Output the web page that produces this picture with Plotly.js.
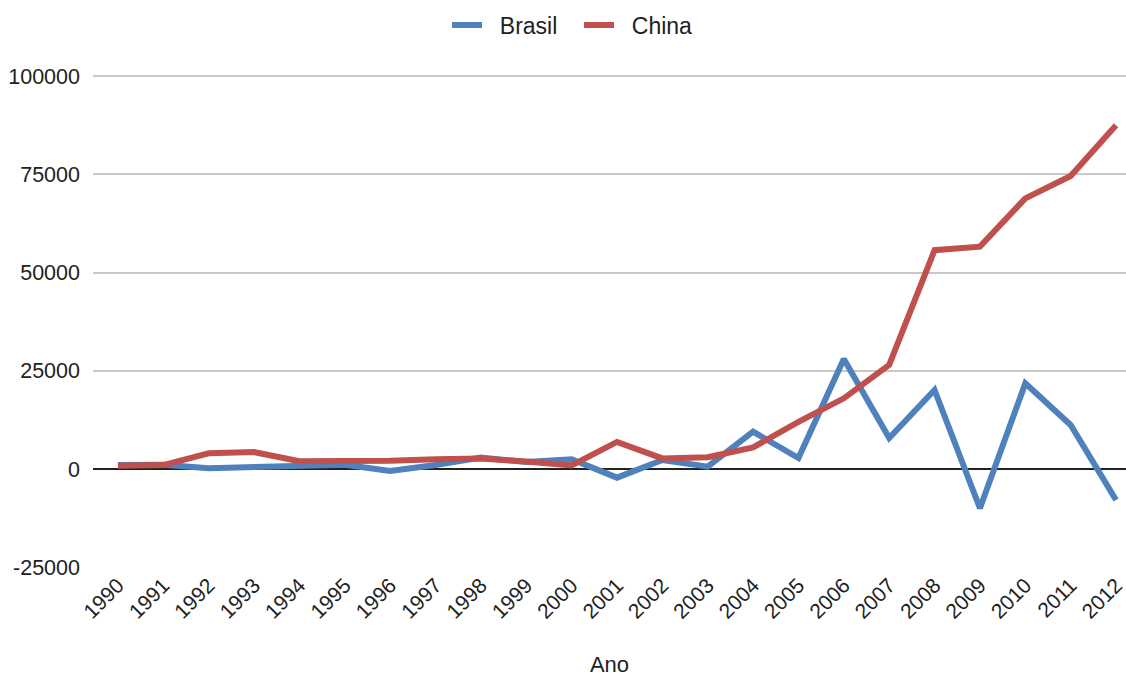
<!DOCTYPE html>
<html>
<head>
<meta charset="utf-8">
<script src="https://cdn.plot.ly/plotly-3.0.1.min.js"></script>
<style>html,body{margin:0;padding:0;background:#fff;}#chart{width:1126px;height:677px;}</style>
</head>
<body>
<div id="chart"></div>
<script>
const anos = ["1990","1991","1992","1993","1994","1995","1996","1997","1998","1999","2000","2001","2002","2003","2004","2005","2006","2007","2008","2009","2010","2011","2012"];
const brasil = [1000, 1100, 200, 600, 1000, 1100, -500, 1000, 2900, 1800, 2500, -2200, 2300, 600, 9500, 2800, 28000, 7900, 20100, -10000, 21800, 11200, -7900];
const china = [800, 1000, 4000, 4300, 2000, 2000, 2100, 2500, 2700, 1900, 900, 6900, 2700, 3000, 5500, 12000, 18000, 26500, 55700, 56600, 68900, 74600, 87500];
const yTicks = [-25000, 0, 25000, 50000, 75000, 100000];
const nomes = ["Brasil", "China"];

const data = [
  {x: anos, y: brasil, name: "\u00a0\u00a0" + nomes[0], type: "scatter", mode: "lines",
   line: {color: "#4f81bd", width: 6}},
  {x: anos, y: china, name: "\u00a0\u00a0" + nomes[1], type: "scatter", mode: "lines",
   line: {color: "#c0504d", width: 6}}
];

const layout = {
  width: 1126, height: 677,
  margin: {l: 93, r: 0, t: 75, b: 109},
  paper_bgcolor: "#fff", plot_bgcolor: "#fff",
  font: {family: "Liberation Sans, Arial, sans-serif", size: 22, color: "#222"},
  showlegend: true,
  legend: {orientation: "h", x: 0.397, xanchor: "left", xref: "container",
           y: 0.963, yanchor: "middle", yref: "container",
           font: {size: 23, color: "#222"}, itemwidth: 30,
           entrywidth: 87, entrywidthmode: "pixels",
           traceorder: "normal"},
  xaxis: {type: "category", range: [-0.55, 22.22], tickangle: -45,
          showgrid: false, zeroline: false, showline: false, ticks: "",
          tickfont: {size: 21}, automargin: false,
          title: {text: "Ano", font: {size: 22}, standoff: 40}},
  yaxis: {range: [-25200, 100300], tickvals: yTicks, ticktext: yTicks.map(String),
          showgrid: true, gridcolor: "#c8c8c8", gridwidth: 2,
          zeroline: true, zerolinecolor: "#222", zerolinewidth: 2,
          showline: false, ticks: "", ticklabelstandoff: 12,
          tickfont: {size: 21.5}, automargin: false}
};

Plotly.newPlot("chart", data, layout, {displayModeBar: false, staticPlot: true});
</script>
</body>
</html>
